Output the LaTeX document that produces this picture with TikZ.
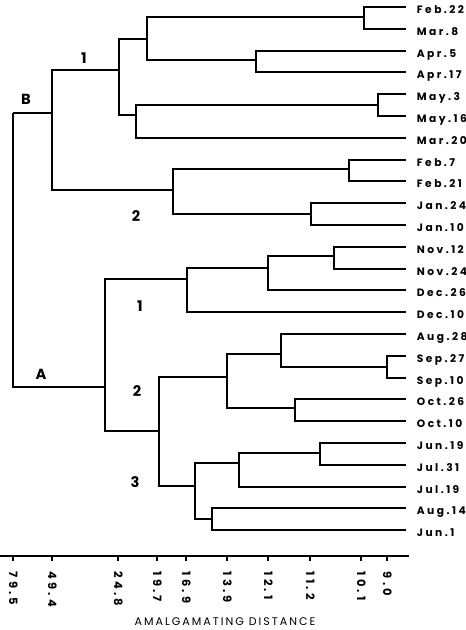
\documentclass[tikz,border=0pt]{standalone}
\usepackage{fontspec}
\setmainfont{Poppins}
\newfontfamily\datefont{Poppins}[LetterSpace=23]
\newfontfamily\tickfont{Poppins}[LetterSpace=27]
\newfontfamily\titlefont{Poppins}[LetterSpace=18]
\usepackage{tikz}
\usetikzlibrary{positioning}

\begin{document}
\begin{tikzpicture}[x=0.75pt, y=-0.75pt, line width=1.4pt,
    leaf/.style={anchor=west, inner sep=0pt, text height=5.6pt, text depth=0pt, font=\datefont\bfseries\fontsize{8}{9}\selectfont},
    ticklbl/.style={rotate=-90, anchor=west, inner sep=0pt, text height=6pt, text depth=0pt, font=\tickfont\bfseries\fontsize{8.6}{10}\selectfont},
    grp/.style={inner sep=0pt, font=\bfseries\fontsize{11}{13}\selectfont}]
    \useasboundingbox (0,0) rectangle (466,630);

    \foreach \name/\txt [count=\k from 0] in {feb22/Feb.22, mar8/Mar.8, apr5/Apr.5, apr17/Apr.17,
        may3/May.3, may16/May.16, mar20/Mar.20, feb7/Feb.7, feb21/Feb.21, jan24/Jan.24, jan10/Jan.10,
        nov12/Nov.12, nov24/Nov.24, dec26/Dec.26, dec10/Dec.10, aug28/Aug.28, sep27/Sep.27,
        sep10/Sep.10, oct26/Oct.26, oct10/Oct.10, jun19/Jun.19, jul31/Jul.31, jul19/Jul.19,
        aug14/Aug.14, jun1/Jun.1} {
        \coordinate (\name) at (406, {7+21.8*\k});
        \node[leaf] (\name-lbl) at (416, {9.8+21.8*\k}) {\txt};
    }

    \coordinate (febmar) at (364,17);
    \coordinate (apr) at (256,60);
    \coordinate (spring) at (147,39);
    \coordinate (may) at (378,105);
    \coordinate (maymar) at (136,115);
    \coordinate (b1) at (119,70);
    \coordinate (feb) at (349,169);
    \coordinate (jan) at (311,214);
    \coordinate (b2) at (173,190);
    \coordinate (b) at (52,113);
    \coordinate (nov) at (334,256);
    \coordinate (novdec) at (268,268);
    \coordinate (a1) at (187,279);
    \coordinate (sep) at (387,367);
    \coordinate (augsep) at (281,354);
    \coordinate (oct) at (295,408);
    \coordinate (a2) at (227,377);
    \coordinate (junjul) at (320,453);
    \coordinate (summer) at (239,463);
    \coordinate (augjun) at (212,519);
    \coordinate (a3) at (195,486);
    \coordinate (a23) at (159,431);
    \coordinate (a) at (105,387);
    \coordinate (root) at (13,113);

    \foreach \p/\c in {febmar/feb22, febmar/mar8, apr/apr5, apr/apr17, spring/febmar, spring/apr,
        may/may3, may/may16, maymar/may, maymar/mar20, b1/spring, b1/maymar,
        feb/feb7, feb/feb21, jan/jan24, jan/jan10, b2/feb, b2/jan, b/b1, b/b2,
        nov/nov12, nov/nov24, novdec/nov, novdec/dec26, a1/novdec, a1/dec10,
        sep/sep27, sep/sep10, augsep/aug28, augsep/sep, oct/oct26, oct/oct10, a2/augsep, a2/oct,
        junjul/jun19, junjul/jul31, summer/junjul, summer/jul19, augjun/aug14, augjun/jun1,
        a3/summer, a3/augjun, a23/a2, a23/a3, a/a1, a/a23, root/b, root/a}
        \draw (\p) |- (\c);

    \node[grp] (lblB) at (26,99) {B};
    \node[grp] (lblB1) at (84,58) {1};
    \node[grp] (lblB2) at (136,216) {2};
    \node[grp] (lblA) at (41,374) {A};
    \node[grp] (lblA1) at (140,306) {1};
    \node[grp] (lblA2) at (137,391) {2};
    \node[grp] (lblA3) at (135,482) {3};

    \draw (0,556) -- (409,556);
    \foreach \x/\v [count=\i] in {13/79.5, 52/49.4, 118/24.8, 157/19.7, 186/16.9, 227/13.9,
        268/12.1, 310/11.2, 361/10.1, 387/9.0} {
        \draw (\x,556) -- (\x,561);
        \node[ticklbl] (tick\i) at (\x,571) {\v};
    }
    \node[font=\titlefont\fontsize{8.3}{10}\selectfont] (axtitle) at (225,622) {AMALGAMATING DISTANCE};
\end{tikzpicture}
\end{document}
